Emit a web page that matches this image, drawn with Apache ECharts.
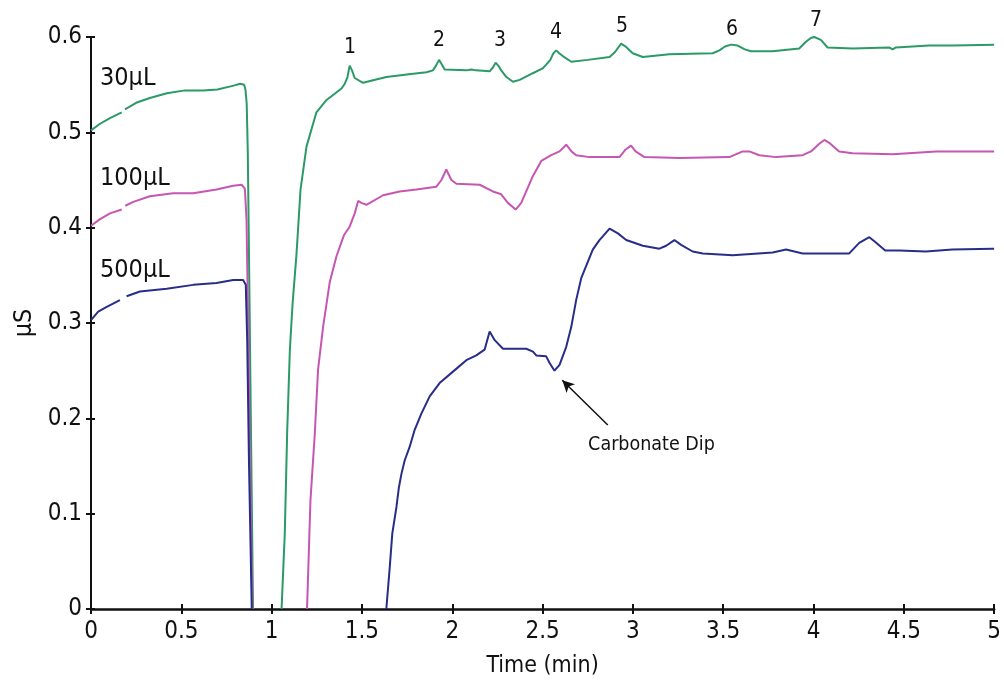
<!DOCTYPE html>
<html>
<head>
<meta charset="utf-8">
<style>
  html, body { margin: 0; padding: 0; background: #ffffff; }
  #chart { width: 1004px; height: 685px; }
</style>
<script src="https://cdn.jsdelivr.net/npm/echarts@6/dist/echarts.min.js"></script>
</head>
<body>
<div id="chart"></div>
<script>
// Conductivity traces (µS) versus time (min) for three injection volumes.
// A [t, null] entry breaks the line (the off-scale part of the water dip).
const trace30uL = [
  [0, 0.502], [0.05, 0.509], [0.105, 0.515], [0.17, 0.521], [0.179, null], [0.188, 0.524],
  [0.25, 0.531], [0.326, 0.536], [0.42, 0.541], [0.52, 0.544], [0.62, 0.544], [0.70, 0.545],
  [0.79, 0.549], [0.825, 0.551], [0.848, 0.550], [0.855, 0.545], [0.862, 0.530], [0.868, 0.48],
  [0.876, 0.35], [0.886, 0.18], [0.897, 0], [0.95, null],
  [1.055, 0], [1.073, 0.080], [1.086, 0.185], [1.101, 0.272], [1.116, 0.320], [1.138, 0.373],
  [1.160, 0.440], [1.193, 0.485], [1.248, 0.521], [1.304, 0.534], [1.387, 0.546], [1.405, 0.551],
  [1.420, 0.558], [1.432, 0.570], [1.445, 0.565], [1.460, 0.557], [1.506, 0.552], [1.635, 0.558],
  [1.76, 0.561], [1.857, 0.563], [1.893, 0.565], [1.910, 0.570], [1.927, 0.576], [1.940, 0.572],
  [1.958, 0.566], [2.078, 0.565], [2.106, 0.566], [2.130, 0.565], [2.207, 0.564], [2.225, 0.568],
  [2.240, 0.573], [2.255, 0.570], [2.271, 0.565], [2.300, 0.558], [2.336, 0.553], [2.373, 0.555],
  [2.446, 0.562], [2.50, 0.567], [2.520, 0.571], [2.543, 0.576], [2.560, 0.583], [2.576, 0.586],
  [2.592, 0.583], [2.612, 0.580], [2.659, 0.574], [2.75, 0.576], [2.871, 0.579], [2.90, 0.584],
  [2.935, 0.593], [2.96, 0.590], [2.999, 0.583], [3.055, 0.579], [3.202, 0.582], [3.442, 0.583],
  [3.479, 0.586], [3.51, 0.590], [3.544, 0.592], [3.580, 0.591], [3.62, 0.587], [3.654, 0.585],
  [3.774, 0.585], [3.921, 0.588], [3.958, 0.595], [3.985, 0.599], [4.004, 0.600], [4.041, 0.597],
  [4.078, 0.589], [4.216, 0.588], [4.419, 0.589], [4.438, 0.587], [4.456, 0.589], [4.640, 0.591],
  [4.769, 0.591], [5.0, 0.592]
];

const trace100uL = [
  [0, 0.402], [0.05, 0.409], [0.105, 0.415], [0.17, 0.419], [0.18, null], [0.19, 0.423],
  [0.234, 0.427], [0.326, 0.433], [0.455, 0.436], [0.566, 0.436], [0.695, 0.440], [0.787, 0.444],
  [0.834, 0.445], [0.852, 0.441], [0.861, 0.408], [0.870, 0.30], [0.880, 0.15], [0.893, 0],
  [1.0, null],
  [1.196, 0], [1.215, 0.114], [1.239, 0.184], [1.257, 0.251], [1.285, 0.296], [1.307, 0.324],
  [1.322, 0.343], [1.359, 0.370], [1.400, 0.392], [1.432, 0.401], [1.460, 0.415], [1.479, 0.428],
  [1.497, 0.426], [1.525, 0.424], [1.617, 0.434], [1.709, 0.438], [1.801, 0.440], [1.912, 0.443],
  [1.940, 0.450], [1.967, 0.461], [1.995, 0.450], [2.023, 0.446], [2.152, 0.445], [2.225, 0.438],
  [2.271, 0.435], [2.308, 0.426], [2.351, 0.419], [2.382, 0.426], [2.446, 0.454], [2.493, 0.470],
  [2.548, 0.476], [2.594, 0.480], [2.631, 0.487], [2.660, 0.480], [2.686, 0.476], [2.760, 0.474],
  [2.926, 0.474], [2.960, 0.482], [2.990, 0.486], [3.015, 0.480], [3.064, 0.474], [3.258, 0.473],
  [3.534, 0.474], [3.608, 0.480], [3.645, 0.480], [3.700, 0.476], [3.793, 0.474], [3.940, 0.476],
  [3.986, 0.480], [4.032, 0.488], [4.060, 0.492], [4.087, 0.489], [4.142, 0.480], [4.216, 0.478],
  [4.438, 0.477], [4.678, 0.480], [4.843, 0.480], [5.0, 0.480]
];

const trace500uL = [
  [0, 0.303], [0.04, 0.312], [0.087, 0.317], [0.160, 0.324], [0.178, null], [0.197, 0.328],
  [0.271, 0.333], [0.419, 0.336], [0.566, 0.340], [0.695, 0.342], [0.787, 0.345], [0.842, 0.345],
  [0.857, 0.340], [0.865, 0.28], [0.875, 0.15], [0.890, 0], [1.2, null],
  [1.635, 0], [1.654, 0.044], [1.668, 0.079], [1.691, 0.107], [1.705, 0.128], [1.719, 0.142],
  [1.737, 0.156], [1.764, 0.170], [1.792, 0.188], [1.829, 0.205], [1.875, 0.223], [1.930, 0.237],
  [2.004, 0.249], [2.078, 0.261], [2.133, 0.266], [2.179, 0.272], [2.207, 0.291], [2.235, 0.282],
  [2.281, 0.273], [2.410, 0.273], [2.447, 0.270], [2.465, 0.266], [2.520, 0.265], [2.539, 0.258],
  [2.566, 0.250], [2.594, 0.256], [2.631, 0.275], [2.659, 0.296], [2.686, 0.324], [2.714, 0.347],
  [2.778, 0.377], [2.815, 0.387], [2.871, 0.399], [2.917, 0.394], [2.963, 0.387], [3.055, 0.381],
  [3.147, 0.378], [3.184, 0.381], [3.230, 0.387], [3.267, 0.382], [3.331, 0.375], [3.387, 0.373],
  [3.553, 0.371], [3.774, 0.374], [3.848, 0.377], [3.940, 0.373], [4.198, 0.373], [4.253, 0.384],
  [4.309, 0.390], [4.342, 0.385], [4.397, 0.376], [4.475, 0.376], [4.622, 0.375], [4.769, 0.377],
  [4.990, 0.378], [5.0, 0.378]
];

const seriesNames = ['30µL', '100µL', '500µL'];
const peakLabels = ['1', '2', '3', '4', '5', '6', '7'];
const dipArrowFrom = [2.861, 0.193];
const dipArrowTo = [2.609, 0.240];
const dipTextAt = [3.103, 0.172];
const dipText = 'Carbonate Dip';

const FONT = "'DejaVu Sans Condensed', 'Liberation Sans', sans-serif";
const COLORS = ['#2a9a66', '#c656b2', '#282d87'];

const chart = echarts.init(document.getElementById('chart'), null, { renderer: 'canvas' });

const baseX = { type: 'value', min: 0, max: 5, interval: 0.5, splitLine: { show: false } };
const baseY = { type: 'value', min: 0, max: 0.6, interval: 0.1, splitLine: { show: false } };

function lineSeries(name, data, color, extra) {
  return Object.assign({
    name: name,
    type: 'line',
    data: data,
    showSymbol: false,
    symbol: 'none',
    connectNulls: false,
    clip: true,
    lineStyle: { color: color, width: 2 },
    itemStyle: { color: color },
    animation: false
  }, extra || {});
}

// label anchors in page pixels: curve names at the left, peak numbers above the 30µL trace
const curveLabelPos = [[100, 78], [100, 178], [100, 270]];
const peakPos = [[350, 48], [439, 41], [500, 41], [556, 33], [622, 27], [732, 30], [816, 21]];

const graphics = [];
seriesNames.forEach((n, i) => {
  graphics.push({
    type: 'text', x: curveLabelPos[i][0], y: curveLabelPos[i][1],
    style: { text: n, font: '25px ' + FONT, fill: '#111', align: 'left', verticalAlign: 'middle' }
  });
});
peakLabels.forEach((p, i) => {
  graphics.push({
    type: 'text', x: peakPos[i][0], y: peakPos[i][1],
    style: { text: p, font: '21px ' + FONT, fill: '#111', align: 'center', verticalAlign: 'middle' }
  });
});

const option = {
  backgroundColor: '#ffffff',
  animation: false,
  grid: { left: 91, right: 9, top: 37, bottom: 76, containLabel: false },
  xAxis: [
    Object.assign({}, baseX, {
      position: 'bottom',
      name: 'Time (min)',
      nameLocation: 'middle',
      nameGap: 46,
      nameTextStyle: { fontFamily: FONT, fontSize: 23, color: '#111' },
      axisLine: { onZero: false, lineStyle: { color: '#111', width: 2.5 } },
      axisTick: { show: true, inside: false, length: 5, lineStyle: { color: '#111', width: 2 } },
      axisLabel: { fontFamily: FONT, fontSize: 24, color: '#111', margin: 11 }
    }),
    Object.assign({}, baseX, {
      position: 'bottom',
      axisLine: { show: false, onZero: false },
      axisTick: { show: true, inside: true, length: 5, lineStyle: { color: '#111', width: 2 } },
      axisLabel: { show: false }
    })
  ],
  yAxis: [
    Object.assign({}, baseY, {
      position: 'left',
      name: 'µS',
      nameLocation: 'middle',
      nameGap: 53,
      nameRotate: 90,
      nameTextStyle: { fontFamily: FONT, fontSize: 25, color: '#111' },
      axisLine: { onZero: false, lineStyle: { color: '#111', width: 2 } },
      axisTick: { show: true, inside: false, length: 5, lineStyle: { color: '#111', width: 2 } },
      axisLabel: { fontFamily: FONT, fontSize: 24, color: '#111', margin: 9 }
    }),
    Object.assign({}, baseY, {
      position: 'left',
      axisLine: { show: false, onZero: false },
      axisTick: { show: true, inside: true, length: 4, lineStyle: { color: '#111', width: 2 } },
      axisLabel: { show: false }
    })
  ],
  series: [
    lineSeries(seriesNames[0], trace30uL, COLORS[0]),
    lineSeries(seriesNames[1], trace100uL, COLORS[1]),
    lineSeries(seriesNames[2], trace500uL, COLORS[2], {
      markLine: {
        silent: true,
        animation: false,
        symbol: ['none', 'arrow'],
        symbolSize: [9, 12],
        label: { show: false },
        lineStyle: { color: '#111', width: 1.5, type: 'solid' },
        data: [[{ coord: dipArrowFrom }, { coord: dipArrowTo }]]
      },
      markPoint: {
        silent: true,
        animation: false,
        symbol: 'circle',
        symbolSize: 0,
        data: [{
          coord: dipTextAt,
          label: {
            show: true, formatter: dipText, position: 'inside',
            fontFamily: FONT, fontSize: 19.5, color: '#111'
          }
        }]
      }
    })
  ],
  graphic: graphics
};

chart.setOption(option);
</script>
</body>
</html>
